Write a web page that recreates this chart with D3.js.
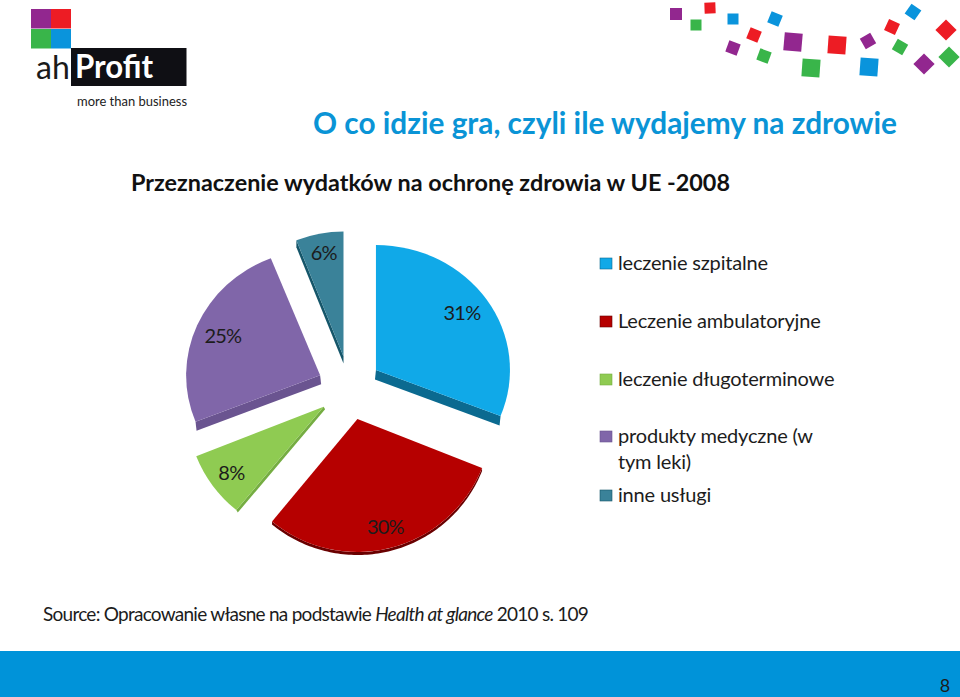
<!DOCTYPE html>
<html>
<head>
<meta charset="utf-8">
<script src="https://cdn.jsdelivr.net/npm/d3@7"></script>
<style>
  html, body { margin: 0; padding: 0; background: #fff; }
  svg { display: block; }
  text { font-family: Lato, "Open Sans", sans-serif; }
</style>
</head>
<body>
<svg id="chart"></svg>
<script>
// chart data
const categories = ["leczenie szpitalne", "Leczenie ambulatoryjne", "leczenie długoterminowe", "produkty medyczne (w|tym leki)", "inne usługi"]
const shares = [31, 30, 8, 25, 6]
const faceColors = ["#10A9E8", "#B60000", "#8FCB52", "#8066A9", "#3A8299"]
const wallColors = ["#0B6A90", "#6A0000", "#75AD42", "#6A5490", "#15566A"]

// decoration squares top right
const squareColors = ["#92278F", "#ED1C24", "#39B54A", "#0A94DC"]
const squareKinds = [0, 1, 2, 3, 3, 1, 0, 2, 0, 2, 1, 3, 0, 1, 3, 2, 0, 1, 2]
const squareX = [676, 710, 696, 733, 775, 754, 733, 764, 793, 811, 837, 869, 868, 892, 913, 900, 924, 946, 949]
const squareY = [14, 8, 25, 19, 19, 35, 48, 56, 42, 68, 45, 67, 41, 27, 12, 47, 64, 30, 57]
const squareSize = [12, 11, 11, 11, 12, 12, 12, 12, 18, 18, 18, 18, 12, 12, 12, 12, 15, 15, 15]
const squareTurn = [0, -2, 0, 0, 22, 22, 20, 20, 5, 4, 4, 4, -30, 25, 35, 30, 45, 45, 45]

const width = 960, height = 697

const pieCenter = {x: 349.5, y: 388},
      explode = 32

// the picture is a tilted pie so every slice has its own radii
const radiusX = [134, 134, 137, 134, 128],
      radiusY = [125, 133, 134, 126, 125],
      labelDist = [104, 112, 114, 106, 105],
      labelDrop = [8, 7, 6, 10, 7],
      wallEdge = ["end", "arc", "start", "start", "start"],
      wallDrop = [[-1, 9.5], [0, 3], [1.5, 2.5], [1, 9], [0, 7]],
      legendRows = [264, 322, 380, 437, 496]

const svg = d3.select("#chart")
              .attr("width", width)
              .attr("height", height)

/**
 *  Logo
 */
const logo = svg.append("g")
logo.selectAll("rect.tile")
    .data([[31, 9, 0], [51, 9, 1], [31, 29, 2], [51, 29, 3]])
    .join("rect")
    .attr("class", "tile")
    .attr("x", d => d[0])
    .attr("y", d => d[1])
    .attr("width", 20)
    .attr("height", 19.5)
    .attr("fill", d => squareColors[d[2]])

logo.append("rect")
    .attr("x", 71).attr("y", 48)
    .attr("width", 115.5).attr("height", 38)
    .attr("fill", "#0F0F14")

logo.append("text")
    .attr("x", 36).attr("y", 79)
    .attr("font-size", "32px")
    .attr("fill", "#1A1A1A")
    .text("ah")

logo.append("text")
    .attr("x", 75).attr("y", 78)
    .attr("font-size", "32px")
    .attr("font-weight", "bold")
    .attr("fill", "#fff")
    .attr("textLength", 78)
    .attr("lengthAdjust", "spacingAndGlyphs")
    .text("Profit")

logo.append("text")
    .attr("x", 77).attr("y", 106)
    .attr("font-size", "14px")
    .attr("fill", "#222")
    .attr("textLength", 110)
    .attr("lengthAdjust", "spacingAndGlyphs")
    .text("more than business")

svg.append("g")
   .selectAll("rect")
   .data(squareX)
   .join("rect")
   .attr("x", (d, i) => d - squareSize[i] / 2)
   .attr("y", (d, i) => squareY[i] - squareSize[i] / 2)
   .attr("width", (d, i) => squareSize[i])
   .attr("height", (d, i) => squareSize[i])
   .attr("transform", (d, i) => `rotate(${squareTurn[i]} ${d} ${squareY[i]})`)
   .attr("fill", (d, i) => squareColors[squareKinds[i]])

/**
 *  Titles
 */
svg.append("text")
   .attr("x", 313).attr("y", 134)
   .attr("font-size", "31px")
   .attr("font-weight", "bold")
   .attr("fill", "#0A94D6")
   .attr("textLength", 584)
   .attr("lengthAdjust", "spacingAndGlyphs")
   .text("O co idzie gra, czyli ile wydajemy na zdrowie")

svg.append("text")
   .attr("x", 131).attr("y", 191)
   .attr("font-size", "23px")
   .attr("font-weight", "bold")
   .attr("fill", "#111")
   .attr("textLength", 599)
   .attr("lengthAdjust", "spacingAndGlyphs")
   .text("Przeznaczenie wydatków na ochronę zdrowia w UE -2008")

/**
 *  Pie
 */
const pie = d3.pie().sort(null).value(d => d)
const slices = pie(shares)
const line = d3.line()

function midAngle(d) { return (d.startAngle + d.endAngle) / 2 }

function apex(d) {
  return [pieCenter.x + explode * Math.sin(midAngle(d)),
          pieCenter.y - explode * Math.cos(midAngle(d))]
}

function rimPoint(d, i, a) {
  const o = apex(d)
  return [o[0] + radiusX[i] * Math.sin(a), o[1] - radiusY[i] * Math.cos(a)]
}

function wallPoints(d, i) {
  let pts
  if (wallEdge[i] == "arc") {
    pts = d3.range(d.startAngle, d.endAngle, 0.02).map(a => rimPoint(d, i, a))
    pts.push(rimPoint(d, i, d.endAngle))
  } else {
    pts = [apex(d), rimPoint(d, i, wallEdge[i] == "end" ? d.endAngle : d.startAngle)]
  }
  const shifted = pts.map(p => [p[0] + wallDrop[i][0], p[1] + wallDrop[i][1]]).reverse()
  return pts.concat(shifted)
}

const g = svg.append("g")

g.selectAll("path.wall")
 .data(slices)
 .join("path")
 .attr("class", "wall")
 .attr("d", (d, i) => line(wallPoints(d, i)) + "Z")
 .attr("fill", (d, i) => wallColors[i])

g.selectAll("path.face")
 .data(slices)
 .join("path")
 .attr("class", "face")
 .attr("d", (d, i) => d3.arc().innerRadius(0).outerRadius(radiusX[i])(d))
 .attr("transform", (d, i) => {
   const o = apex(d)
   return `translate(${o[0]},${o[1]}) scale(1,${radiusY[i] / radiusX[i]})`
 })
 .attr("fill", (d, i) => faceColors[i])

g.selectAll("text")
 .data(slices)
 .join("text")
 .attr("x", (d, i) => apex(d)[0] + labelDist[i] * Math.sin(midAngle(d)))
 .attr("y", (d, i) => apex(d)[1] - labelDist[i] * Math.cos(midAngle(d)) + labelDrop[i])
 .attr("text-anchor", "middle")
 .attr("font-size", "20px")
 .attr("letter-spacing", "-0.8px")
 .attr("fill", "#1c1c1c")
 .text(d => d.data + "%")

/**
 *  Legend
 */
const legend = svg.append("g")
                  .selectAll("g")
                  .data(categories)
                  .join("g")
                  .attr("transform", (d, i) => `translate(600,${legendRows[i]})`)

legend.append("rect")
      .attr("y", -6)
      .attr("width", 12)
      .attr("height", 11)
      .attr("fill", (d, i) => faceColors[i])
      .attr("stroke", (d, i) => wallColors[i])
      .attr("stroke-width", 0.6)

legend.selectAll("text")
      .data(d => d.split("|"))
      .join("text")
      .attr("x", 18)
      .attr("y", (d, i) => 6 + i * 26)
      .attr("font-size", "20px")
      .attr("letter-spacing", "-0.18px")
      .attr("fill", "#1c1c1c")
      .text(d => d)

/**
 *  Source and footer
 */
const source = svg.append("text")
                  .attr("x", 43).attr("y", 621)
                  .attr("font-size", "19px")
                  .attr("fill", "#1c1c1c")
                  .attr("letter-spacing", "-0.74px")
source.append("tspan").text("Source: Opracowanie własne na podstawie ")
source.append("tspan").attr("font-style", "italic").text("Health at glance")
source.append("tspan").text(" 2010 s. 109")

svg.append("rect")
   .attr("x", 0).attr("y", 651)
   .attr("width", width).attr("height", height - 651)
   .attr("fill", "#0093D9")

svg.append("text")
   .attr("x", 945).attr("y", 692)
   .attr("text-anchor", "middle")
   .attr("font-size", "18px")
   .attr("fill", "#1c1c1c")
   .text("8")
</script>
</body>
</html>
